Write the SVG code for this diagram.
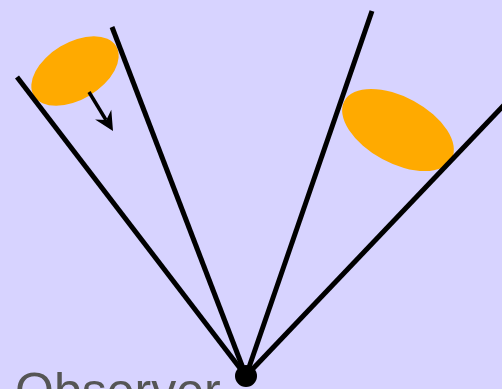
<svg xmlns="http://www.w3.org/2000/svg" width="502" height="389" viewBox="0 0 502 389">
<style>
.ray{stroke:#000;stroke-width:5;fill:none;stroke-linecap:butt}
.obj{fill:#ffaa00}
.lbl{font-family:"Liberation Sans",Arial,sans-serif;font-size:50px;fill:#555555}
</style>
<rect width="502" height="389" fill="#d7d3ff"/>
<g id="object-left">
<ellipse class="obj" cx="75" cy="71" rx="48" ry="28.5" transform="rotate(-31 75 71)"/>
</g>
<g id="object-right">
<ellipse class="obj" cx="398" cy="130" rx="61" ry="33" transform="rotate(28.5 398 130)"/>
</g>
<g id="connectors">
<line class="ray" x1="246" y1="376" x2="17" y2="77"/>
<line class="ray" x1="246" y1="376" x2="112" y2="27"/>
<line class="ray" x1="246" y1="376" x2="372" y2="11"/>
<line class="ray" x1="246" y1="376" x2="505" y2="104"/>
<line x1="89" y1="92" x2="106" y2="120" stroke="#000" stroke-width="3.5"/>
<polygon points="113,131 95.1,119.6 106.3,119.9 111.3,109.8" fill="#000"/>
</g>
<g id="observer">
<circle cx="246" cy="376" r="11" fill="#000"/>
<text class="lbl" x="15" y="408">Observer</text>
</g>
</svg>
